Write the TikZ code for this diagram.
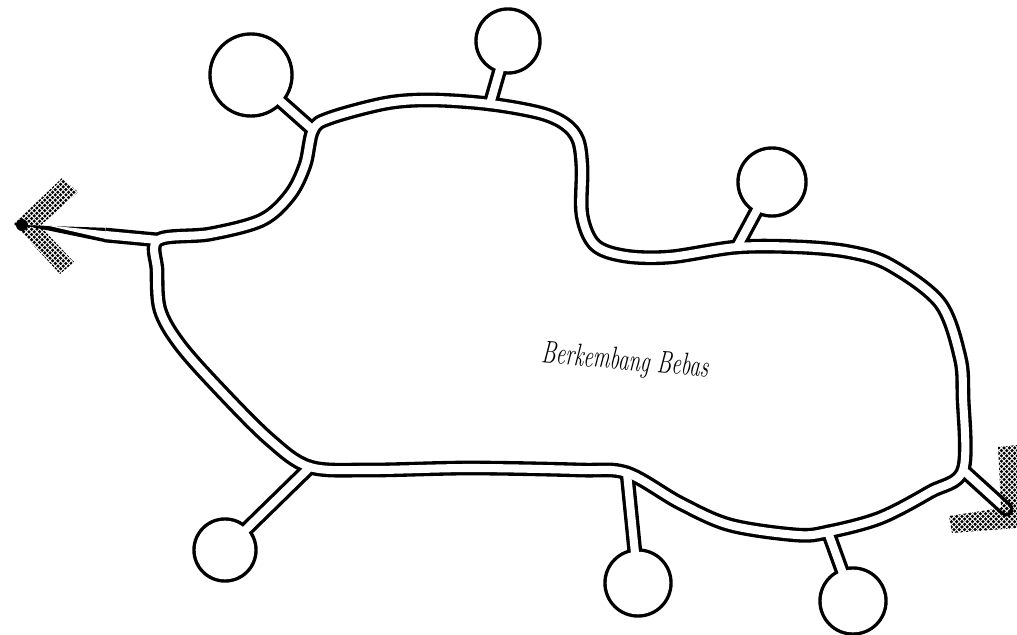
\documentclass[tikz,border=0pt]{standalone}
\usetikzlibrary{patterns}
\pgfdeclarepatternformonly{chk}{\pgfqpoint{-1pt}{-1pt}}{\pgfqpoint{4pt}{4pt}}{\pgfqpoint{3pt}{3pt}}{%
  \pgfpathcircle{\pgfqpoint{0pt}{0pt}}{1pt}%
  \pgfpathcircle{\pgfqpoint{1.5pt}{1.5pt}}{1pt}%
  \pgfusepath{fill}}
\begin{document}
\begin{tikzpicture}[x=0.02cm,y=-0.02cm,
  roadout/.style={line width=8.4pt,black,line join=round,line cap=round},
  roadin/.style={line width=4.6pt,white,line join=round,line cap=round},
  chevron/.style={pattern=chk,pattern color=black},
  lbl/.style={font=\itshape\large}
  ]
\useasboundingbox (0,0) rectangle (1017,635);
% junctions on the loop
\coordinate (jl) at (158,240);
\coordinate (jtl) at (313,130);
\coordinate (jt) at (490,104);
\coordinate (jrt) at (737,247);
\coordinate (jr) at (963,470);
\coordinate (jbr) at (828,532);
\coordinate (jbm) at (627,473);
\coordinate (jbl) at (310,467);
% cul-de-sac centres
\coordinate (btl) at (251,75);
\coordinate (bt) at (508,41);
\coordinate (brt) at (772,182);
\coordinate (bbl) at (225,550);
\coordinate (bbm) at (638,583);
\coordinate (bbr) at (853,601);
% exits
\coordinate (xl) at (22,225);
\coordinate (xm) at (105,235);
\coordinate (xr) at (1006,509);

\foreach \lay/\dr/\hw/\tx in {roadout/1.7/7.2/22,roadin/-1.7/3.8/45}{
  \draw[\lay] plot[smooth cycle,tension=0.55] coordinates {
    (jl) (210,234) (262,220) (290,195) (305,165) (jtl) (330,118) (387,103)
    (433,100) (jt) (540,113) (565,124) (578,140) (582,168) (582,215) (595,245)
    (625,256) (670,257) (jrt) (800,247) (850,252) (890,265) (940,303)
    (960,357) (963,397) (jr) (930,492) (880,518) (jbr) (797,535)
    (730,525) (680,503) (jbm) (580,470) (470,468) (370,470) (jbl)
    (270,440) (220,390) (180,345) (160,310) (157,270)};
  % stems
  \draw[\lay] (jtl) -- (btl);
  \draw[\lay] (jt) -- (bt);
  \draw[\lay] (jrt) -- (brt);
  \draw[\lay] (jbl) -- (bbl);
  \draw[\lay] (jbm) -- (bbm);
  \draw[\lay] (jbr) -- (bbr);
  % exits
  \draw[\lay,line cap=butt] (jl) -- (xm);
  \fill[\lay] (105,{235-\hw}) -- (\tx,225) -- (105,{235+\hw}) -- cycle;
  \draw[\lay] (jr) -- (xr);
  % bulbs
  \fill[\lay] (btl) circle[radius=41+\dr];
  \fill[\lay] (bt) circle[radius=32+\dr];
  \fill[\lay] (brt) circle[radius=34+\dr];
  \fill[\lay] (bbl) circle[radius=31+\dr];
  \fill[\lay] (bbm) circle[radius=33+\dr];
  \fill[\lay] (bbr) circle[radius=33+\dr];
}
\fill[chevron] (14,224) -- (62,178) -- (78,192) -- (40,226) -- (74,262) -- (60,274) -- cycle;
\fill[chevron] (998,447) -- (1017,445) -- (1017,528) -- (952,533) -- (949,516) -- (1001,508) -- cycle;
\fill (xl) circle[radius=6];
\node[lbl,rotate=-5] (txt) at (625,362) {\scalebox{1}[1.5]{Berkembang Bebas}};
\end{tikzpicture}
\end{document}
